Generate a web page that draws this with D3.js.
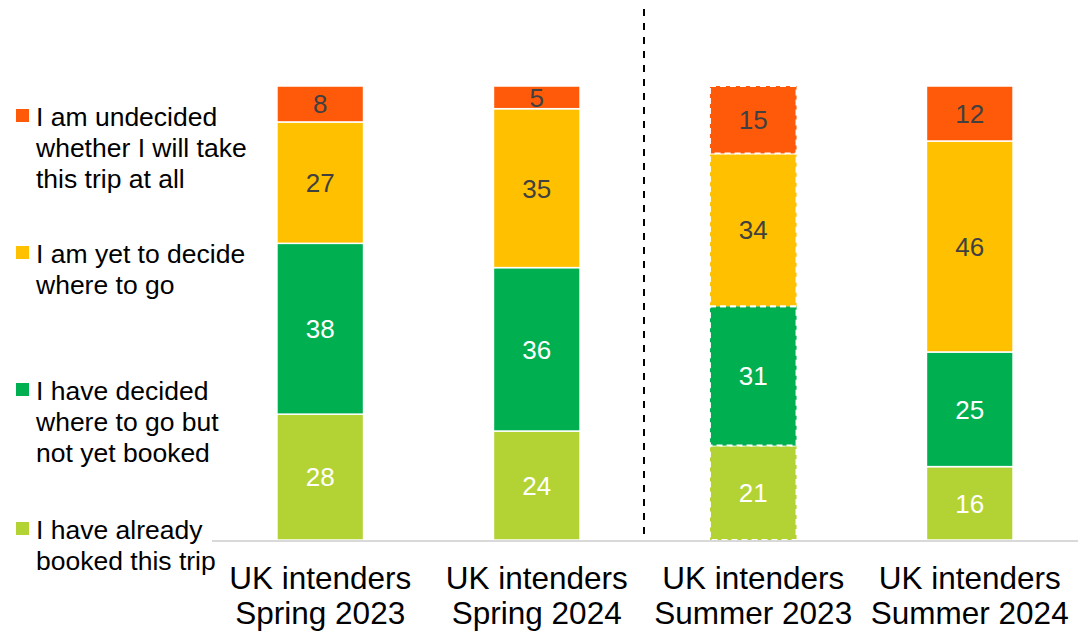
<!DOCTYPE html>
<html>
<head>
<meta charset="utf-8">
<script src="https://cdn.jsdelivr.net/npm/d3@7.9.0/dist/d3.min.js"></script>
<style>
  body { margin: 0; background: #fff; }
  svg { font-family: "Liberation Sans", Arial, sans-serif; }
</style>
</head>
<body>
<svg id="chart" width="1086" height="632"></svg>
<script>
const categories = [
  ['UK intenders', 'Spring 2023'],
  ['UK intenders', 'Spring 2024'],
  ['UK intenders', 'Summer 2023'],
  ['UK intenders', 'Summer 2024']
];
// bottom to top
const booked    = [28, 24, 21, 16];
const decided   = [38, 36, 31, 25];
const yetDecide = [27, 35, 34, 46];
const undecided = [8, 5, 15, 12];

const seriesNames = ['booked', 'decided', 'yetDecide', 'undecided'];
const seriesValues = [booked, decided, yetDecide, undecided];
const seriesColors = ['#B3D334', '#00B050', '#FFC000', '#FF5A0A'];
const labelColors = ['#ffffff', '#ffffff', '#404040', '#404040'];
const legendLabels = [
  ['I am undecided', 'whether I will take', 'this trip at all'],
  ['I am yet to decide', 'where to go'],
  ['I have decided', 'where to go but', 'not yet booked'],
  ['I have already', 'booked this trip']
];
const legendColors = ['#FF5A0A', '#FFC000', '#00B050', '#B3D334'];
const dashedBar = 2; // Summer 2023 shown with dashed outline

const rows = categories.map((c, i) => {
  const r = { key: i };
  seriesNames.forEach((s, j) => r[s] = seriesValues[j][i]);
  return r;
});

const svg = d3.select('#chart');

const x = d3.scaleBand()
  .domain(d3.range(categories.length))
  .range([212, 1078])
  .paddingInner(0.6)
  .paddingOuter(0.3);

const y = d3.scaleLinear().domain([0, 1]).range([540, 86]);

const stacked = d3.stack()
  .keys(seriesNames)
  .offset(d3.stackOffsetExpand)(rows);

// bars
stacked.forEach((layer, si) => {
  const g = svg.append('g');
  layer.forEach((d, i) => {
    const x0 = x(i), w = x.bandwidth();
    const y0 = y(d[1]), h = y(d[0]) - y(d[1]);
    g.append('rect')
      .attr('x', x0).attr('y', y0)
      .attr('width', w).attr('height', h)
      .attr('fill', seriesColors[si])
      .attr('stroke', '#fff')
      .attr('stroke-width', i === dashedBar ? 2 : 1.5)
      .attr('stroke-dasharray', i === dashedBar ? '6,4' : null);
    g.append('text')
      .attr('x', x0 + w / 2)
      .attr('y', y0 + h / 2)
      .attr('dy', '0.36em')
      .attr('text-anchor', 'middle')
      .attr('font-size', 26)
      .attr('fill', labelColors[si])
      .text(d.data[seriesNames[si]]);
  });
});

// baseline
svg.append('line')
  .attr('x1', 212).attr('x2', 1078)
  .attr('y1', y(0) + 1).attr('y2', y(0) + 1)
  .attr('stroke', '#d9d9d9').attr('stroke-width', 2);

// divider between spring and summer
const divX = (x(1) + x.bandwidth() + x(2)) / 2 - 1;
svg.append('line')
  .attr('x1', divX).attr('x2', divX)
  .attr('y1', 9).attr('y2', y(0))
  .attr('stroke', '#000').attr('stroke-width', 2)
  .attr('stroke-dasharray', '7,7');

// category labels
categories.forEach((lines, i) => {
  const t = svg.append('text')
    .attr('x', x(i) + x.bandwidth() / 2)
    .attr('y', 589)
    .attr('text-anchor', 'middle')
    .attr('font-size', 31.5)
    .attr('fill', '#000');
  lines.forEach((l, k) => {
    t.append('tspan')
      .attr('x', x(i) + x.bandwidth() / 2)
      .attr('dy', k === 0 ? 0 : 35)
      .text(l);
  });
});

// legend
const legendTops = [116, 253, 390, 529];
legendLabels.forEach((lines, i) => {
  svg.append('rect')
    .attr('x', 16).attr('y', legendTops[i] - 7)
    .attr('width', 13).attr('height', 13)
    .attr('fill', legendColors[i]);
  const t = svg.append('text')
    .attr('x', 36)
    .attr('y', legendTops[i])
    .attr('dy', '0.36em')
    .attr('font-size', 26.5)
    .attr('fill', '#000');
  lines.forEach((l, k) => {
    t.append('tspan')
      .attr('x', 36)
      .attr('dy', k === 0 ? '0.36em' : 31)
      .text(l);
  });
});
</script>
</body>
</html>
